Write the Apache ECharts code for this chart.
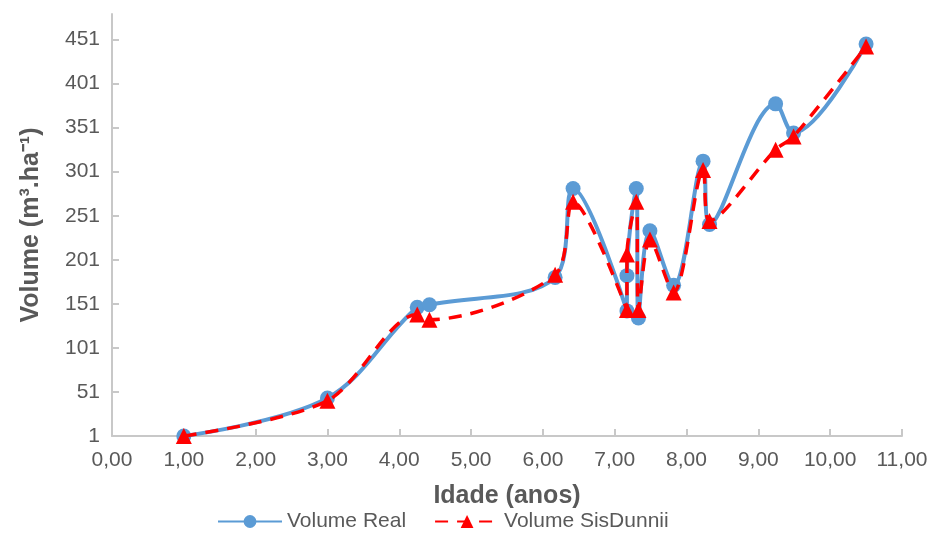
<!DOCTYPE html>
<html>
<head>
<meta charset="utf-8">
<script src="https://cdn.jsdelivr.net/npm/echarts@6/dist/echarts.min.js"></script>
<style>
  html, body { margin: 0; padding: 0; background: #fff; }
  #main { width: 931px; height: 538px; }
</style>
</head>
<body>
<div id="main"></div>
<script>
// idade (anos) de cada parcela
var ages = [1.00, 3.00, 4.25, 4.42, 6.17, 6.42, 7.17, 7.17, 7.30, 7.33, 7.49, 7.82, 8.23, 8.32, 9.24, 9.49, 10.50];
var volReal = [1, 44, 147, 150, 181, 282, 143, 183, 282, 135, 234, 172, 313, 241, 378, 345, 446];
var volSis = [1, 41, 139, 133, 184, 267, 144, 207, 267, 144, 224, 164, 303, 245, 326, 341, 443];
var yTicks = [1, 51, 101, 151, 201, 251, 301, 351, 401, 451];

function pairs(vals) {
  return ages.map(function (a, i) { return [a, vals[i]]; });
}

var chart = echarts.init(document.getElementById('main'));
var txt = '#595959';
var axisCol = '#c8c8c8';
var font = 'Liberation Sans';

chart.setOption({
  animation: false,
  grid: { left: 112, right: 29, top: 14, bottom: 102 },
  legend: {
    bottom: 1,
    left: 212,
    itemWidth: 64,
    itemHeight: 16,
    itemGap: 28,
    textStyle: { color: txt, fontSize: 21, fontFamily: font },
    data: ['Volume Real', 'Volume SisDunnii']
  },
  xAxis: {
    type: 'value',
    min: 0, max: 11, interval: 1,
    name: 'Idade (anos)',
    nameLocation: 'middle',
    nameGap: 48,
    nameTextStyle: { color: txt, fontSize: 25, fontWeight: 'bold', fontFamily: font },
    axisLine: { show: true, lineStyle: { color: axisCol, width: 2 } },
    axisTick: { show: true, inside: true, length: 7, lineStyle: { color: axisCol, width: 2 } },
    splitLine: { show: false },
    axisLabel: {
      color: txt, fontSize: 21, fontFamily: font, margin: 14,
      formatter: function (v) { return v.toFixed(2).replace('.', ','); }
    }
  },
  yAxis: {
    type: 'value',
    min: 1, max: 480,
    name: 'Volume (m³.ha⁻¹)',
    nameLocation: 'middle',
    nameGap: 68,
    nameTextStyle: { color: txt, fontSize: 25, fontWeight: 'bold', fontFamily: font },
    axisLine: { show: true, lineStyle: { color: axisCol, width: 2 } },
    axisTick: { show: true, inside: true, length: 7, customValues: yTicks, lineStyle: { color: axisCol, width: 2 } },
    splitLine: { show: false },
    axisLabel: { color: txt, fontSize: 21, fontFamily: font, margin: 12, customValues: yTicks }
  },
  series: [
    {
      name: 'Volume Real',
      type: 'line',
      smooth: 0.35,
      data: pairs(volReal),
      symbol: 'circle',
      symbolSize: 15,
      itemStyle: { color: '#5B9BD5' },
      lineStyle: { color: '#5B9BD5', width: 4 },
      z: 2
    },
    {
      name: 'Volume SisDunnii',
      type: 'line',
      smooth: 0.3,
      data: pairs(volSis),
      symbol: 'triangle',
      symbolSize: 16,
      itemStyle: { color: '#FF0000' },
      lineStyle: { color: '#FF0000', width: 3.5, type: [13, 9] },
      z: 3
    }
  ]
});
</script>
</body>
</html>
